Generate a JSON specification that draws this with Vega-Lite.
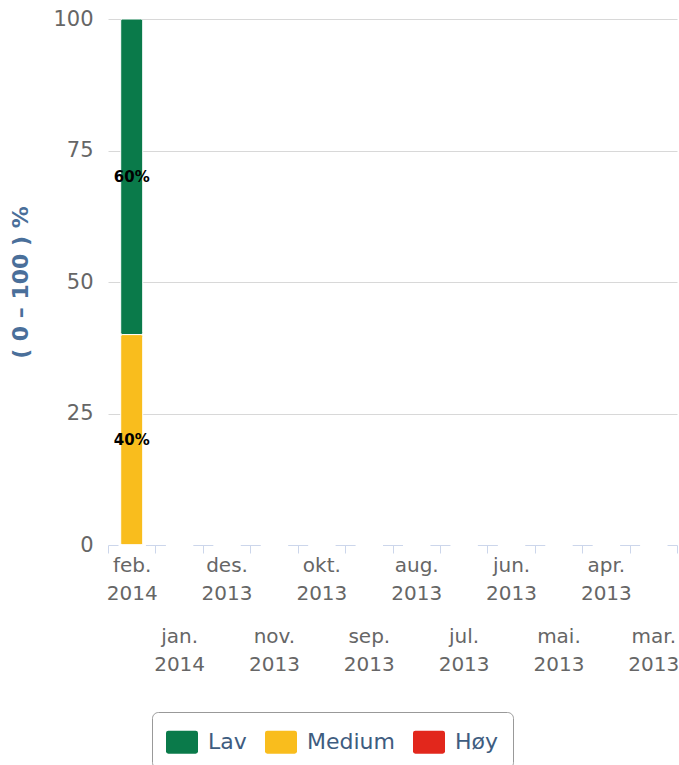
{
  "$schema": "https://vega.github.io/schema/vega-lite/v6.json",
  "width": 569,
  "height": 526,
  "autosize": "none",
  "padding": {"left": 108, "top": 19, "right": 2, "bottom": 220},
  "config": {"view": {"stroke": null}, "font": "DejaVu Sans"},
  "data": {"values": [
    {"month": "feb. 2014", "level": "Lav", "value": 60},
    {"month": "feb. 2014", "level": "Medium", "value": 40},
    {"month": "feb. 2014", "level": "Høy", "value": 0}
  ]},
  "transform": [
    {"calculate": "indexof(['Høy','Medium','Lav'], datum.level)", "as": "rank"},
    {"stack": "value", "groupby": ["month"], "sort": [{"field": "rank", "order": "ascending"}], "as": ["v0", "v1"]},
    {"calculate": "(datum.v0 + datum.v1) / 2", "as": "mid"},
    {"calculate": "datum.value + '%'", "as": "label"}
  ],
  "encoding": {
    "x": {
      "field": "month",
      "type": "nominal",
      "sort": null,
      "scale": {
        "domain": ["feb. 2014", "jan. 2014", "des. 2013", "nov. 2013", "okt. 2013", "sep. 2013", "aug. 2013", "jul. 2013", "jun. 2013", "mai. 2013", "apr. 2013", "mar. 2013"],
        "paddingInner": 0,
        "paddingOuter": 0
      },
      "axis": {
        "title": null,
        "tickBand": "extent",
        "labelAngle": 0,
        "labelFontSize": 20,
        "labelColor": "#666666",
        "labelLineHeight": 14.2,
        "labelBaseline": "top",
        "labelExpr": "indexof(['feb. 2014','jan. 2014','des. 2013','nov. 2013','okt. 2013','sep. 2013','aug. 2013','jul. 2013','jun. 2013','mai. 2013','apr. 2013','mar. 2013'], datum.value) % 2 == 1 ? ['\u2800', '\u2800', '\u2800', '\u2800', '\u2800', split(datum.label, ' ')[0], '\u2800', split(datum.label, ' ')[1]] : [split(datum.label, ' ')[0], '\u2800', split(datum.label, ' ')[1]]",
        "labelOverlap": false,
        "labelPadding": 2,
        "tickColor": "#ccd6eb",
        "tickSize": 8,
        "domainColor": "#ccd6eb",
        "domainDash": [20, 27.42],
        "domainDashOffset": 10,
        "grid": false
      }
    }
  },
  "layer": [
    {
      "mark": {"type": "bar", "size": 22, "stroke": "white", "strokeWidth": 1, "cornerRadius": 2},
      "encoding": {
        "y": {
          "field": "v0",
          "type": "quantitative",
          "scale": {"domain": [0, 100], "nice": false},
          "axis": {
            "title": "( 0 – 100 ) %",
            "values": [0, 25, 50, 75, 100],
            "titleFontSize": 22,
            "titleFontWeight": "bold",
            "titleColor": "#4a6f9a",
            "titlePadding": 20,
            "labelFontSize": 21,
            "labelColor": "#666666",
            "labelPadding": 15,
            "ticks": false,
            "domain": false,
            "gridColor": {"condition": {"test": "datum.value == 0", "value": "transparent"}, "value": "#d8d8d8"}
          }
        },
        "y2": {"field": "v1"},
        "color": {
          "field": "level",
          "type": "nominal",
          "scale": {"domain": ["Lav", "Medium", "Høy"], "range": ["#0a7a4a", "#f9bd1d", "#e2271c"]},
          "legend": {
            "title": null,
            "orient": "none",
            "legendX": 44,
            "legendY": 693,
            "direction": "horizontal",
            "strokeColor": "#999999",
            "cornerRadius": 6,
            "padding": 14,
            "symbolType": "M-0.85,-0.72H0.85Q1,-0.72 1,-0.57V0.57Q1,0.72 0.85,0.72H-0.85Q-1,0.72 -1,0.57V-0.57Q-1,-0.72 -0.85,-0.72Z",
            "symbolSize": 1024,
            "symbolStrokeWidth": 0,
            "symbolOpacity": 1,
            "labelFontSize": 22,
            "labelColor": "#3e5c80",
            "labelOffset": 10,
            "columnPadding": 18
          }
        }
      }
    },
    {
      "transform": [{"filter": "datum.value > 0"}],
      "mark": {"type": "text", "fontSize": 15, "fontWeight": "bold", "color": "black"},
      "encoding": {
        "y": {
          "field": "mid",
          "type": "quantitative",
          "axis": {
            "title": "( 0 – 100 ) %",
            "values": [0, 25, 50, 75, 100],
            "titleFontSize": 22,
            "titleFontWeight": "bold",
            "titleColor": "#4a6f9a",
            "titlePadding": 20,
            "labelFontSize": 21,
            "labelColor": "#666666",
            "labelPadding": 15,
            "ticks": false,
            "domain": false,
            "gridColor": {"condition": {"test": "datum.value == 0", "value": "transparent"}, "value": "#d8d8d8"}
          }
        },
        "text": {"field": "label"}
      }
    }
  ]
}
